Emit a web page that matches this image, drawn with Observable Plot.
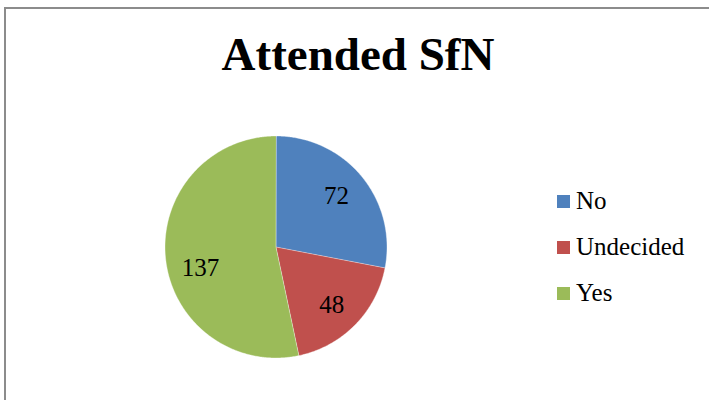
<!DOCTYPE html>
<html>
<head>
<meta charset="utf-8">
<script src="https://cdn.jsdelivr.net/npm/d3@7"></script>
<script src="https://cdn.jsdelivr.net/npm/@observablehq/plot@0.6"></script>
<style>
  html, body { margin: 0; padding: 0; background: #fff; }
  #wrap { position: relative; width: 709px; height: 400px; overflow: hidden; font-family: "Liberation Serif", "Times New Roman", serif; }
  #frame { position: absolute; left: 4px; top: 7px; width: 720px; height: 420px; border-top: 2px solid #8c8c8c; border-left: 2px solid #8c8c8c; box-sizing: border-box; }
  #title { position: absolute; left: 0; width: 716px; top: 31px; text-align: center; font-weight: bold; font-size: 47px; line-height: 47px; color: #000; }
  #chart { position: absolute; left: 0; top: 0; }
  .leg { position: absolute; left: 557px; height: 26px; display: flex; align-items: center; font-size: 25px; color: #000; white-space: nowrap; }
  .leg span.sw { display: inline-block; width: 13px; height: 13px; margin-right: 6px; }
</style>
</head>
<body>
<div id="wrap">
  <div id="frame"></div>
  <div id="title"></div>
  <div id="chart"></div>
</div>
<script>
const title = "Attended SfN";
const categories = ["No", "Undecided", "Yes"];
const values = [72, 48, 137];
const colors = ["#4F81BD", "#C0504D", "#9BBB59"];

// pie geometry from the values
const arcs = d3.pie().sort(null).value(d => d.value)(categories.map((c, i) => ({category: c, value: values[i]})));
const polys = [];
for (const a of arcs) {
  const n = Math.max(8, Math.ceil((a.endAngle - a.startAngle) / 0.01));
  polys.push({category: a.data.category, px: 0, py: 0});
  for (let k = 0; k <= n; k++) {
    const t = a.startAngle + (a.endAngle - a.startAngle) * k / n;
    polys.push({category: a.data.category, px: Math.sin(t), py: Math.cos(t)});
  }
}
const labels = arcs.map(a => {
  const m = (a.startAngle + a.endAngle) / 2;
  const r = 0.73;
  return {category: a.data.category, value: a.data.value, px: r * Math.sin(m), py: r * Math.cos(m)};
});
const maxV = d3.max(values);

const cx = 275.5, cy = 246.5, R = 111;
const font = "Liberation Serif, Times New Roman, serif";
const plot = Plot.plot({
  width: 709,
  height: 400,
  margin: 0,
  style: {background: "transparent", overflow: "visible"},
  x: {domain: [-1, 1], range: [cx - R, cx + R], axis: null},
  y: {domain: [-1, 1], range: [cy + R, cy - R], axis: null},
  color: {domain: categories, range: colors},
  marks: [
    Plot.line(polys, {x: "px", y: "py", z: "category", fill: "category", stroke: "#ffffff", strokeWidth: 0.6, strokeOpacity: 0.6, curve: "linear-closed"}),
    Plot.text(labels, {filter: d => d.value !== maxV, x: "px", y: "py", text: d => String(d.value), fontSize: 25, fontFamily: font, fill: "#000", dx: -2, dy: 1}),
    Plot.text(labels, {filter: d => d.value === maxV, x: "px", y: "py", text: d => String(d.value), fontSize: 25, fontFamily: font, fill: "#000", dx: 5, dy: 13})
  ]
});
document.getElementById("chart").appendChild(plot);
document.getElementById("title").textContent = title;

const wrap = document.getElementById("wrap");
const rowY = [188, 234, 280];
categories.forEach((c, i) => {
  const d = document.createElement("div");
  d.className = "leg";
  d.style.top = rowY[i] + "px";
  const sw = document.createElement("span");
  sw.className = "sw";
  sw.style.background = colors[i];
  d.appendChild(sw);
  d.appendChild(document.createTextNode(c));
  wrap.appendChild(d);
});
</script>
</body>
</html>
